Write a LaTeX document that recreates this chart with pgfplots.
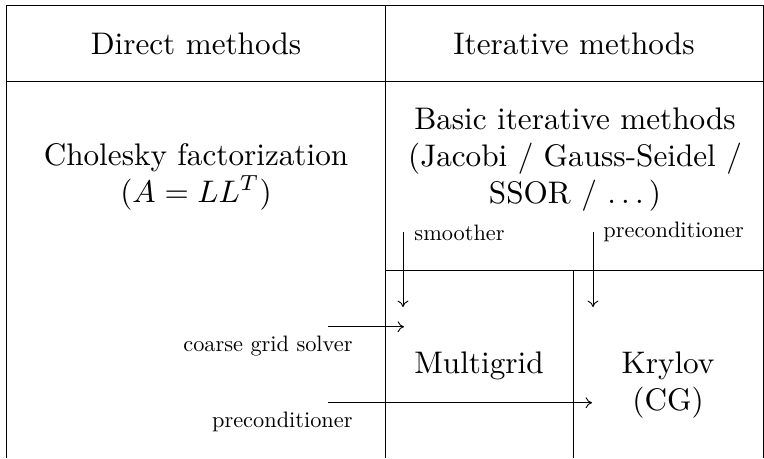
\documentclass[border=0pt]{standalone}
\usepackage{pgfplots}
\pgfplotsset{compat=1.18}
\usetikzlibrary{arrows.meta}
\newcommand\tdots{.\kern\fontdimen3\font.\kern\fontdimen3\font.\kern\fontdimen3\font}
\begin{document}
\begin{tikzpicture}[
  big/.style={font=\fontsize{10}{12}\selectfont, scale=1.56, inner sep=0pt},
  sm/.style={font=\fontsize{10}{12}\selectfont, scale=1.117, inner sep=0pt},
  ln/.style={black, line width=0.45pt},
  ar/.style={black, line width=0.45pt, -{To[length=3.2pt,width=5.5pt]}},
]
\begin{axis}[
  width=382pt, height=229pt, scale only axis,
  xmin=0, xmax=764, ymin=0, ymax=458, y dir=reverse,
  hide axis, clip=false,
]
\addplot[draw=none, forget plot] coordinates {(0,0) (764,458)};
% frame and cells
\addplot[ln, no marks] coordinates {(6.5,458) (6.5,5.5) (763,5.5) (763,458)};
\addplot[ln, no marks] coordinates {(6.5,81) (763,81)};
\addplot[ln, no marks] coordinates {(385,5.5) (385,458)};
\addplot[ln, no marks] coordinates {(385,270.5) (763,270.5)};
\addplot[ln, no marks] coordinates {(573,270.5) (573,458)};
% arrows
\addplot[ar, no marks] coordinates {(403,232) (403,307)};
\addplot[ar, no marks] coordinates {(593,232) (593,307)};
\addplot[ar, no marks] coordinates {(328,326.7) (404,326.7)};
\addplot[ar, no marks] coordinates {(328,402.7) (592,402.7)};
% texts
\node[anchor=base, big] at (axis cs:196,54) {Direct methods};
\node[anchor=base, big] at (axis cs:574,54) {Iterative methods};
\node[anchor=base, big] at (axis cs:196,165) {Cholesky factorization};
\node[anchor=base, big] at (axis cs:196,202) {$(A = LL^T)$};
\node[anchor=base, big] at (axis cs:575,129.5) {Basic iterative methods};
\node[anchor=base, big] at (axis cs:575,166.5) {(Jacobi / Gauss-Seidel /};
\node[anchor=base, big] at (axis cs:575,203.5) {SSOR / \tdots)};
\node[anchor=base west, sm] at (axis cs:414,240.5) {smoother};
\node[anchor=base west, sm] at (axis cs:603,237.5) {preconditioner};
\node[anchor=base east, sm] at (axis cs:353,351.7) {coarse grid solver};
\node[anchor=base east, sm] at (axis cs:353,427.7) {preconditioner};
\node[anchor=base, big] at (axis cs:479,373) {Multigrid};
\node[anchor=base, big] at (axis cs:668,373) {Krylov};
\node[anchor=base, big] at (axis cs:668,410.5) {(CG)};
\end{axis}
\end{tikzpicture}
\end{document}
